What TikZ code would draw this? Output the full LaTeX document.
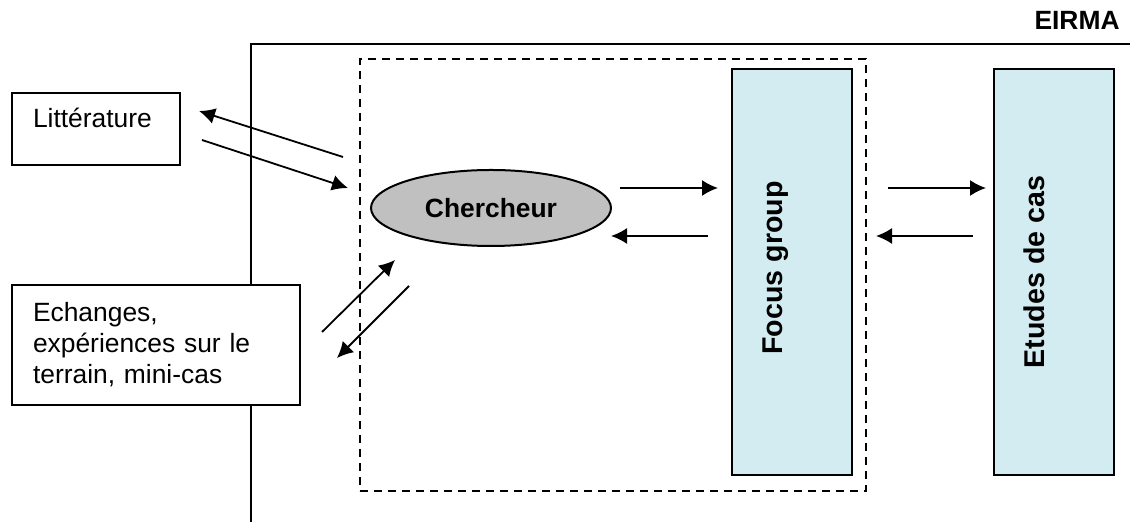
\documentclass[tikz,border=0pt]{standalone}
\usepackage{fontspec}
\setmainfont{Liberation Sans}
\usepackage{tikz}
\usetikzlibrary{shapes.geometric,arrows.meta,positioning}

\definecolor{chgris}{RGB}{192,192,192}
\definecolor{bleuclair}{RGB}{211,236,242}

\tikzset{
  boite/.style={draw, fill=white, line width=1pt, anchor=north west, align=left, inner ysep=0pt},
  colonne/.style={draw, line width=1pt, fill=bleuclair, minimum width=60pt, minimum height=203pt, anchor=north west},
  vertical/.style={rotate=90, font=\fontsize{14.3pt}{17pt}\selectfont\bfseries},
  fleche/.style={line width=0.9pt, -{Latex[length=8pt,width=8pt]}},
}

\begin{document}
\begin{tikzpicture}[x=0.5pt, y=-0.5pt, font=\fontsize{13.2pt}{15.5pt}\selectfont]
  \useasboundingbox (0,0) rectangle (1130,522);

  % cadre EIRMA
  \coordinate (cadreH) at (1130,44);
  \coordinate (cadreC) at (251,44);
  \coordinate (cadreB) at (251,522);
  \draw[line width=1pt] (cadreH) -- (cadreC) -- (cadreB);
  \node[anchor=south east, font=\fontsize{13.2pt}{15.5pt}\selectfont\bfseries, inner sep=0pt] (eirma) at (1120,30) {EIRMA};

  % zone du chercheur
  \node[draw, dash pattern=on 4pt off 3pt, line width=1pt, anchor=north west,
        minimum width=253pt, minimum height=216pt] (zone) at (359,58) {};

  \node[boite, text width=63pt, inner xsep=10.5pt, text height=17.5pt, text depth=18.5pt] (litt) at (11,92) {Littérature};
  \node[boite, text width=123pt, inner xsep=10.5pt, minimum height=60pt] (echg) at (11,284)
    {Echanges,\\expériences sur le\\terrain, mini-cas};

  \node[draw, ellipse, line width=1pt, fill=chgris, minimum width=120pt, minimum height=38pt, inner sep=0pt,
        font=\fontsize{13.2pt}{15.5pt}\selectfont\bfseries] (cherch) at (491,208) {Chercheur};

  \node[colonne] (focus) at (731,68) {};
  \node[vertical] (focust) at ([xshift=-8pt,yshift=2pt]focus.center) {Focus group};
  \node[colonne] (etudes) at (993,68) {};
  \node[vertical] (etudest) at ([xshift=-10pt]etudes.center) {Etudes de cas};

  % extremites des fleches
  \coordinate (l1a) at (343,157); \coordinate (l1b) at (199,111);
  \coordinate (l2a) at (202,140); \coordinate (l2b) at (348,188);
  \coordinate (e1a) at (322,332); \coordinate (e1b) at (395,260);
  \coordinate (e2a) at (409,286); \coordinate (e2b) at (337,358);
  \coordinate (c1a) at (620,188); \coordinate (c1b) at (718,188);
  \coordinate (c2a) at (708,236); \coordinate (c2b) at (611,236);
  \coordinate (f1a) at (888,188); \coordinate (f1b) at (986,188);
  \coordinate (f2a) at (973,236); \coordinate (f2b) at (876,236);

  \foreach \a/\b in {l1a/l1b, l2a/l2b, e1a/e1b, e2a/e2b, c1a/c1b, c2a/c2b, f1a/f1b, f2a/f2b}
    \draw[fleche] (\a) -- (\b);
\end{tikzpicture}
\end{document}
